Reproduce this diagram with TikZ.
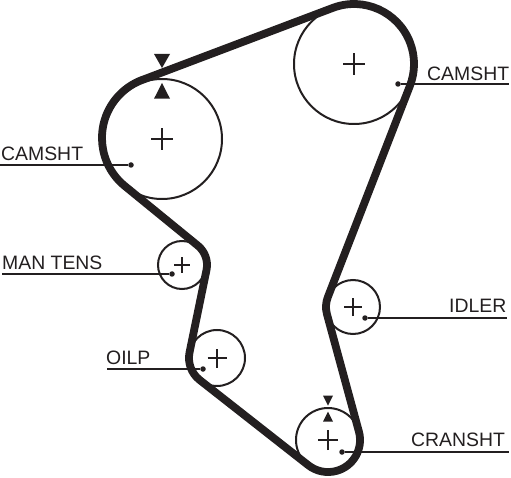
\documentclass[tikz,border=0pt]{standalone}
\usepackage{fontspec}
\setmainfont{Liberation Sans}
\usetikzlibrary{calc}
\definecolor{ink}{HTML}{231F20}
\tikzset{
    pulley/.style={circle, draw=ink, line width=2pt, inner sep=0pt, minimum size=#1},
    belt/.style={draw=ink, line width=7.8pt, line join=round},
    leader/.style={draw=ink, line width=2pt},
    tag/.style={text=ink, font=\fontsize{19.4}{20}\selectfont, inner sep=0pt, anchor=base west},
    dot/.style={circle, fill=ink, inner sep=0pt, minimum size=5.5pt},
    marker/.style={fill=ink, draw=none}
}
\begin{document}
\begin{tikzpicture}[x=1pt,y=1pt]
    \useasboundingbox (0,0) rectangle (511,477);
    % pulleys
    \node[pulley=120pt] (camL) at (162,338) {};
    \node[pulley=120pt] (camR) at (354,413) {};
    \node[pulley=48pt] (manT) at (182,212) {};
    \node[pulley=56pt] (oilP) at (217,119) {};
    \node[pulley=54pt] (idlr) at (353,170) {};
    \node[pulley=64pt] (crnk) at (328,37) {};
    \foreach \p/\s in {camL/11, camR/11, manT/8, oilP/9.5, idlr/9, crnk/10}
        \draw[ink, line width=2pt] ($(\p)+(-\s,0)$) -- ($(\p)+(\s,0)$) ($(\p)+(0,-\s)$) -- ($(\p)+(0,\s)$);
    % belt
    \draw[belt] (142.1,397) -- (332.8,469.1) arc[start angle=110.72, end angle=-21.2, radius=60]
        -- (327.8,179.8) arc[start angle=158.8, end angle=195.3, radius=27]
        -- (358.9,45.4) arc[start angle=15.3, end angle=-128.1, radius=32]
        -- (199.7,97) arc[start angle=231.9, end angle=168.4, radius=28]
        -- (206.5,207) arc[start angle=-11.6, end angle=50.8, radius=25]
        -- (124.8,291) arc[start angle=230.8, end angle=110.72, radius=62] -- cycle;
    % timing marks
    \path[marker] (162,409) -- (154,423) -- (170,423) -- cycle;
    \path[marker] (162,394) -- (154,378.3) -- (170,378.3) -- cycle;
    \path[marker] (328,71.3) -- (323,81.3) -- (333,81.3) -- cycle;
    \path[marker] (328,65.3) -- (323,55.3) -- (333,55.3) -- cycle;
    % labels and leaders
    \node[dot] (dotA) at (131,312) {};
    \coordinate (endA) at (0,312);
    \node[tag] (tagA) at (1,316) {CAMSHT};
    \draw[leader] (dotA) -- (endA);
    \node[dot] (dotB) at (398,393) {};
    \coordinate (endB) at (509,393);
    \node[tag] (tagB) at (427,396.5) {CAMSHT};
    \draw[leader] (dotB) -- (endB);
    \node[dot] (dotC) at (172,203) {};
    \coordinate (endC) at (2,203);
    \node[tag] (tagC) at (2,207.5) {MAN TENS};
    \draw[leader] (dotC) -- (endC);
    \node[dot] (dotD) at (203,108) {};
    \coordinate (endD) at (107,108);
    \node[tag] (tagD) at (106,112.5) {OILP};
    \draw[leader] (dotD) -- (endD);
    \node[dot] (dotE) at (365,159) {};
    \coordinate (endE) at (507,159);
    \node[tag] (tagE) at (449,165) {IDLER};
    \draw[leader] (dotE) -- (endE);
    \node[dot] (dotF) at (342,25) {};
    \coordinate (endF) at (509,25);
    \node[tag] (tagF) at (411,31) {CRANSHT};
    \draw[leader] (dotF) -- (endF);
\end{tikzpicture}
\end{document}
